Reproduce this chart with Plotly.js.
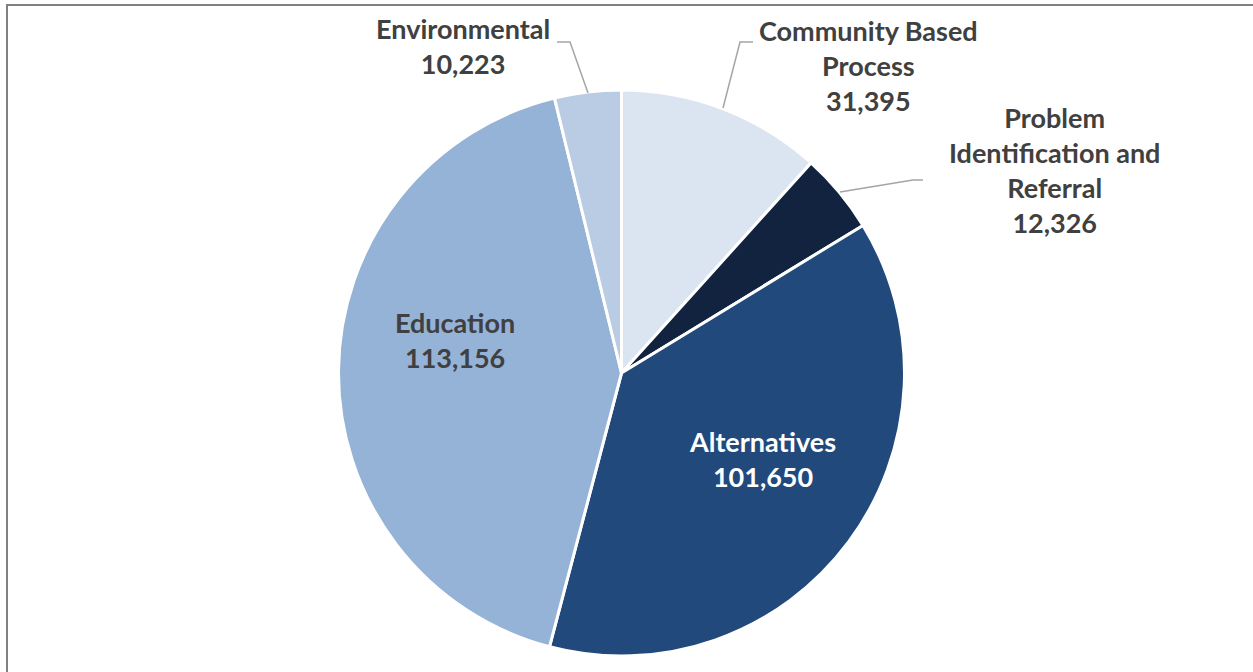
<!DOCTYPE html>
<html>
<head>
<meta charset="utf-8">
<script src="https://cdn.plot.ly/plotly-3.0.1.min.js"></script>
<style>
html,body{margin:0;padding:0;background:#fff;overflow:hidden;}
#chart{width:1253px;height:672px;}
</style>
</head>
<body>
<div id="chart"></div>
<script>
// Data (clockwise from 12 o'clock)
const categories = ["Community Based Process", "Problem Identification and Referral", "Alternatives", "Education", "Environmental"];
const labelLines = ["Community Based<br>Process", "Problem<br>Identification and<br>Referral", "Alternatives", "Education", "Environmental"];
const values = [31395, 12326, 101650, 113156, 10223];
const colors = ["#dbe4f1", "#12233f", "#21497c", "#95b2d7", "#b9cce4"];
const textColors = ["#404040", "#404040", "#ffffff", "#404040", "#404040"];

const W = 1253, H = 672;
const px = x => x / W;
const py = y => 1 - y / H;

// pie geometry (pixels)
const cx = 621.5, cy = 373, R = 283;

// label centres (pixels) for each category
const labelPos = [[868, 66], [1054, 170], [762, 459], [455, 340], [463, 46]];

const fmt = v => v.toLocaleString('en-US');

const annotations = categories.map((c, i) => ({
  xref: 'paper', yref: 'paper',
  x: px(labelPos[i][0]), y: py(labelPos[i][1]),
  xanchor: 'center', yanchor: 'middle',
  text: labelLines[i] + '<br>' + fmt(values[i]),
  showarrow: false, align: 'center',
  font: {family: 'Lato, sans-serif', size: 27, color: textColors[i], weight: 700}
}));

function poly(pts) {
  return 'M' + pts.map(p => px(p[0]) + ',' + py(p[1])).join(' L');
}
const leaderPts = [
  [[753, 42], [740, 42], [723, 108]],
  [[840, 192], [913, 180], [923, 180]],
  [[557, 42], [570, 42], [588, 93]]
];
const shapes = leaderPts.map(p => ({
  type: 'path', xref: 'paper', yref: 'paper', path: poly(p),
  line: {color: '#a5a5a5', width: 1.5}
}));
shapes.push({
  type: 'rect', xref: 'paper', yref: 'paper',
  x0: px(7), x1: 1.05, y0: -0.05, y1: py(5),
  line: {color: '#808080', width: 2}, fillcolor: 'rgba(0,0,0,0)'
});

const trace = {
  type: 'pie',
  labels: categories,
  values: values,
  sort: false,
  direction: 'clockwise',
  rotation: 0,
  textinfo: 'none',
  hoverinfo: 'label+value',
  marker: {colors: colors, line: {color: '#ffffff', width: 3}},
  domain: {x: [px(cx - R), px(cx + R)], y: [1 - (cy + R) / H, 1 - (cy - R) / H]},
  showlegend: false
};

const layout = {
  width: W, height: H,
  margin: {l: 0, r: 0, t: 0, b: 0},
  paper_bgcolor: '#ffffff',
  plot_bgcolor: '#ffffff',
  showlegend: false,
  annotations: annotations,
  shapes: shapes
};

Plotly.newPlot('chart', [trace], layout, {displayModeBar: false, staticPlot: true});
</script>
</body>
</html>
